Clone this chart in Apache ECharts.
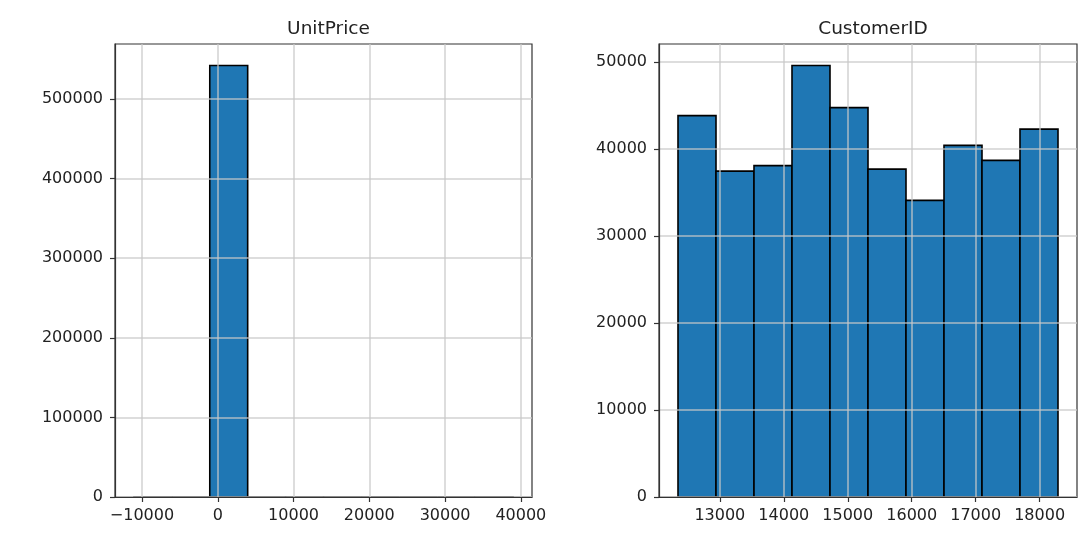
<!DOCTYPE html>
<html>
<head>
<meta charset="utf-8">
<title>UnitPrice / CustomerID histograms</title>
<script src="https://cdn.jsdelivr.net/npm/echarts@6/dist/echarts.min.js"></script>
<style>
  html, body { margin: 0; padding: 0; background: #ffffff; }
  #chart { width: 1091px; height: 546px; }
</style>
</head>
<body>
<div id="chart"></div>
<script>
// Histogram of UnitPrice: 10 equal-width bins between the min and max price
const unitPriceEdges = [-11062.06, -6058.85, -1055.65, 3947.56, 8950.76, 13953.97,
                        18957.17, 23960.38, 28963.58, 33966.79, 38970];
const unitPriceCounts = [2, 0, 541890, 12, 3, 1, 0, 0, 0, 1];
const unitPriceXTicks = [-10000, 0, 10000, 20000, 30000, 40000];
const unitPriceYTicks = [0, 100000, 200000, 300000, 400000, 500000];

// Histogram of CustomerID: 10 equal-width bins between the lowest and highest id
const customerIdEdges = [12346, 12940.1, 13534.2, 14128.3, 14722.4, 15316.5,
                         15910.6, 16504.7, 17098.8, 17692.9, 18287];
const customerIdCounts = [43850, 37460, 38100, 49600, 44770, 37700, 34100, 40420, 38700, 42290];
const customerIdXTicks = [13000, 14000, 15000, 16000, 17000, 18000];
const customerIdYTicks = [0, 10000, 20000, 30000, 40000, 50000];

const FONT = 'DejaVu Sans';
const TEXT = '#222222';
const BAR_FILL = '#1f77b4';

function binsToData(edges, counts) {
  return counts.map((c, i) => [edges[i], edges[i + 1], c]);
}

// axis range padded by 5% of the data span on each side
function paddedRange(lo, hi) {
  const pad = (hi - lo) * 0.05;
  return [lo - pad, hi + pad];
}

// negative numbers use a typographic minus sign
function tickText(v) {
  return v < 0 ? '\u2212' + String(-v) : String(v);
}

function valueAxis(gridIndex, range, ticks, isY) {
  return {
    type: 'value',
    gridIndex: gridIndex,
    min: range[0],
    max: range[1],
    z: 5,
    axisLine: { show: true, onZero: false, lineStyle: { color: '#333', width: 1.2 } },
    axisTick: { show: true, length: 5, customValues: ticks, lineStyle: { color: '#333', width: 1.2 } },
    axisLabel: {
      customValues: ticks,
      margin: isY ? 12 : 11,
      color: TEXT,
      fontFamily: FONT,
      fontSize: 16,
      formatter: tickText
    },
    splitLine: { show: true, lineStyle: { color: 'rgba(200,200,200,0.62)', width: 2 } }
  };
}

function histSeries(idx, data) {
  return {
    type: 'custom',
    xAxisIndex: idx,
    yAxisIndex: idx,
    z: 2,
    encode: { x: [0, 1], y: 2 },
    data: data,
    renderItem: function (params, api) {
      const top = api.coord([api.value(0), api.value(2)]);
      const base = api.coord([api.value(1), 0]);
      return {
        type: 'rect',
        shape: { x: top[0], y: top[1], width: base[0] - top[0], height: base[1] - top[1] },
        style: { fill: BAR_FILL, stroke: '#000', lineWidth: 1.6 }
      };
    }
  };
}

const upX = paddedRange(unitPriceEdges[0], unitPriceEdges[unitPriceEdges.length - 1]);
const upY = [0, Math.max(...unitPriceCounts) * 1.05];
const cidX = paddedRange(customerIdEdges[0], customerIdEdges[customerIdEdges.length - 1]);
const cidY = [0, Math.max(...customerIdCounts) * 1.05];

const grids = [
  { left: 115, top: 44, width: 417, height: 453 },
  { left: 659, top: 44, width: 418, height: 453 }
];

const option = {
  backgroundColor: '#ffffff',
  animation: false,
  title: [
    {
      text: 'UnitPrice',
      left: grids[0].left + grids[0].width / 2,
      top: 15,
      textAlign: 'center',
      textStyle: { fontFamily: FONT, fontSize: 18.5, fontWeight: 'normal', color: TEXT }
    },
    {
      text: 'CustomerID',
      left: grids[1].left + grids[1].width / 2,
      top: 15,
      textAlign: 'center',
      textStyle: { fontFamily: FONT, fontSize: 18.5, fontWeight: 'normal', color: TEXT }
    }
  ],
  grid: grids.map(g => Object.assign({
    show: true,
    borderColor: '#333',
    borderWidth: 1.2,
    backgroundColor: 'transparent',
    containLabel: false
  }, g)),
  xAxis: [
    valueAxis(0, upX, unitPriceXTicks, false),
    valueAxis(1, cidX, customerIdXTicks, false)
  ],
  yAxis: [
    valueAxis(0, upY, unitPriceYTicks, true),
    valueAxis(1, cidY, customerIdYTicks, true)
  ],
  series: [
    histSeries(0, binsToData(unitPriceEdges, unitPriceCounts)),
    histSeries(1, binsToData(customerIdEdges, customerIdCounts))
  ]
};

const chart = echarts.init(document.getElementById('chart'), null, { renderer: 'canvas' });
chart.setOption(option);
</script>
</body>
</html>
